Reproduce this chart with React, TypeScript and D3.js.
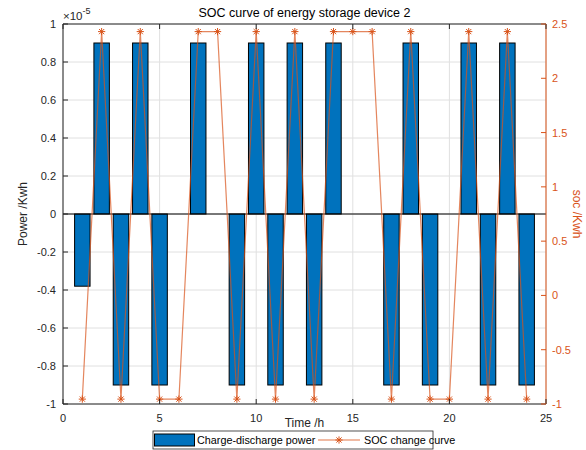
import React from "react";
import * as d3 from "d3";

const hours = [1, 2, 3, 4, 5, 6, 7, 8, 9, 10, 11, 12, 13, 14, 15, 16, 17, 18, 19, 20, 21, 22, 23, 24];
const power = [-0.38, 0.9, -0.9, 0.9, -0.9, 0, 0.9, 0, -0.9, 0.9, -0.9, 0.9, -0.9, 0.9, 0, 0, -0.9, 0.9, -0.9, 0, 0.9, -0.9, 0.9, -0.9];
const soc = [-0.955, 2.43, -0.955, 2.43, -0.955, -0.955, 2.43, 2.43, -0.955, 2.43, -0.955, 2.43, -0.955, 2.43, 2.43, 2.43, -0.955, 2.43, -0.955, -0.955, 2.43, -0.955, 2.43, -0.955];
const xTicks = [0, 5, 10, 15, 20, 25];
const leftTicks = [-1, -0.8, -0.6, -0.4, -0.2, 0, 0.2, 0.4, 0.6, 0.8, 1];
const rightTicks = [-1, -0.5, 0, 0.5, 1, 1.5, 2, 2.5];

const BLUE = "#0072BD";
const ORANGE = "#D95319";
const FONT = "'Liberation Sans', Arial, Helvetica, sans-serif";

function Star({ x, y, r = 3.6 }: { x: number; y: number; r?: number }) {
  const d = r * 0.72;
  return (
    <g stroke={ORANGE} strokeWidth={1}>
      <line x1={x - r} y1={y} x2={x + r} y2={y} />
      <line x1={x} y1={y - r} x2={x} y2={y + r} />
      <line x1={x - d} y1={y - d} x2={x + d} y2={y + d} />
      <line x1={x - d} y1={y + d} x2={x + d} y2={y - d} />
    </g>
  );
}

export default function App() {
  const L = 63, R = 546, T = 24, B = 404;
  const x = d3.scaleLinear().domain([0, 25]).range([L, R]);
  const yl = d3.scaleLinear().domain([-1, 1]).range([B, T]);
  const yr = d3.scaleLinear().domain([-1, 2.5]).range([B, T]);
  const bw = (x(0.8) - x(0));
  const line = d3.line<number>().x((_, i) => x(hours[i])).y((v) => yr(v));
  const fmt = (v: number) => (Math.abs(v) < 1e-9 ? "0" : String(+v.toFixed(2)));

  return (
    <svg width={586} height={450} style={{ position: "absolute", left: 0, top: 0, background: "#fff" }} fontFamily={FONT}>
      <rect x={0} y={0} width={586} height={450} fill="#fff" />
      {/* grid */}
      {leftTicks.map((t) => (
        <line key={"gy" + t} x1={L} x2={R} y1={yl(t)} y2={yl(t)} stroke="#e0e0e0" strokeWidth={1} />
      ))}
      {xTicks.map((t) => (
        <line key={"gx" + t} x1={x(t)} x2={x(t)} y1={T} y2={B} stroke="#e0e0e0" strokeWidth={1} />
      ))}
      {/* bars */}
      {power.map((v, i) => (
        <rect
          key={"b" + i}
          x={x(hours[i]) - bw / 2}
          y={Math.min(yl(v), yl(0))}
          width={bw}
          height={Math.abs(yl(v) - yl(0))}
          fill={BLUE}
          stroke="#000"
          strokeWidth={1}
        />
      ))}
      <line x1={L} x2={R} y1={yl(0)} y2={yl(0)} stroke="#000" strokeWidth={1} />
      {/* soc line */}
      <path d={line(soc) || ""} fill="none" stroke={ORANGE} strokeWidth={1.2} strokeOpacity={0.7} />
      {soc.map((v, i) => (
        <Star key={"s" + i} x={x(hours[i])} y={yr(v)} />
      ))}
      {/* axes box */}
      <line x1={L} x2={R} y1={T} y2={T} stroke="#262626" strokeWidth={1} />
      <line x1={L} x2={R} y1={B} y2={B} stroke="#262626" strokeWidth={1} />
      <line x1={L} x2={L} y1={T} y2={B} stroke="#262626" strokeWidth={1} />
      <line x1={R} x2={R} y1={T} y2={B} stroke={ORANGE} strokeWidth={1} />
      {/* x ticks */}
      {xTicks.map((t) => (
        <g key={"xt" + t}>
          <line x1={x(t)} x2={x(t)} y1={B} y2={B - 5} stroke="#262626" />
          <line x1={x(t)} x2={x(t)} y1={T} y2={T + 5} stroke="#262626" />
          <text x={x(t)} y={B + 18} textAnchor="middle" fontSize={11} fill="#262626">{t}</text>
        </g>
      ))}
      {/* left ticks */}
      {leftTicks.map((t) => (
        <g key={"lt" + t}>
          <line x1={L} x2={L + 5} y1={yl(t)} y2={yl(t)} stroke="#262626" />
          <text x={L - 7} y={yl(t) + 4} textAnchor="end" fontSize={11} fill="#262626">{fmt(t)}</text>
        </g>
      ))}
      {/* right ticks */}
      {rightTicks.map((t) => (
        <g key={"rt" + t}>
          <line x1={R - 5} x2={R} y1={yr(t)} y2={yr(t)} stroke={ORANGE} />
          <text x={R + 6} y={yr(t) + 4} textAnchor="start" fontSize={11} fill={ORANGE}>{fmt(t)}</text>
        </g>
      ))}
      {/* exponent */}
      <text x={L} y={T - 4} fontSize={11.5} fill="#262626">
        ×10<tspan dy={-6} fontSize={9}>-5</tspan>
      </text>
      {/* title */}
      <text x={(L + R) / 2} y={17} textAnchor="middle" fontSize={12.5} fill="#000">SOC curve of energy storage device 2</text>
      {/* axis labels */}
      <text x={(L + R) / 2} y={427} textAnchor="middle" fontSize={12} fill="#262626">Time /h</text>
      <text transform={`translate(27,${(T + B) / 2}) rotate(-90)`} textAnchor="middle" fontSize={12} fill="#262626">Power /Kwh</text>
      <text transform={`translate(573,${(T + B) / 2}) rotate(90)`} textAnchor="middle" fontSize={12} fill={ORANGE}>soc /Kwh</text>
      {/* legend */}
      <rect x={153} y={431} width={280} height={18} fill="#fff" stroke="#262626" strokeWidth={0.8} />
      <rect x={154.5} y={434} width={40} height={12} fill={BLUE} stroke="#000" strokeWidth={1} />
      <text x={197} y={444} fontSize={10.8} fill="#000">Charge-discharge power</text>
      <line x1={318} x2={360} y1={440} y2={440} stroke={ORANGE} strokeWidth={1.2} strokeOpacity={0.8} />
      <Star x={339} y={440} />
      <text x={364} y={444} fontSize={10.8} fill="#000">SOC change curve</text>
    </svg>
  );
}
